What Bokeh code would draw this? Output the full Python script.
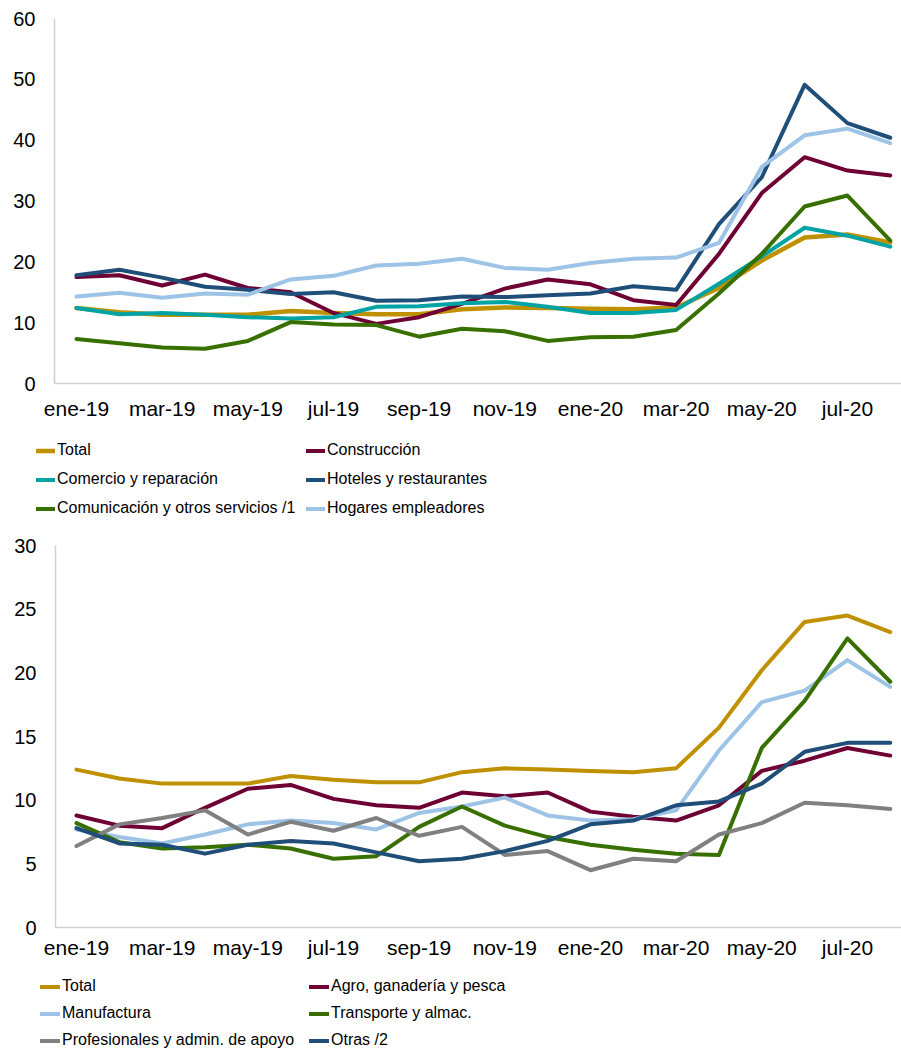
from bokeh.plotting import figure
from bokeh.models import Range1d, FixedTicker, Legend, LegendItem, LinearAxis
from bokeh.embed import file_html
from bokeh.resources import INLINE

months = ["ene-19", "feb-19", "mar-19", "abr-19", "may-19", "jun-19", "jul-19", "ago-19",
          "sep-19", "oct-19", "nov-19", "dic-19", "ene-20", "feb-20", "mar-20", "abr-20",
          "may-20", "jun-20", "jul-20", "ago-20"]

total = [12.4, 11.7, 11.3, 11.3, 11.3, 11.9, 11.6, 11.4, 11.4, 12.2, 12.5, 12.4, 12.3, 12.2, 12.5, 15.7, 20.2, 24.0, 24.5, 23.2]

# Top chart series
construccion = [17.5, 17.8, 16.1, 17.9, 15.7, 15.0, 11.6, 9.8, 10.9, 13.1, 15.6, 17.1, 16.3, 13.7, 12.9, 21.3, 31.3, 37.2, 35.0, 34.2]
comercio = [12.4, 11.4, 11.6, 11.3, 10.9, 10.7, 10.9, 12.6, 12.7, 13.2, 13.4, 12.6, 11.6, 11.6, 12.1, 16.4, 20.9, 25.6, 24.3, 22.5]
hoteles = [17.8, 18.7, 17.4, 15.9, 15.4, 14.7, 15.0, 13.6, 13.7, 14.3, 14.2, 14.5, 14.8, 16.0, 15.4, 26.2, 33.9, 49.1, 42.8, 40.4]
comunicacion = [7.3, 6.6, 5.9, 5.7, 7.0, 10.1, 9.7, 9.6, 7.7, 9.0, 8.6, 7.0, 7.6, 7.7, 8.8, 14.8, 21.3, 29.1, 30.9, 23.5]
hogares = [14.3, 14.9, 14.1, 14.8, 14.6, 17.1, 17.7, 19.4, 19.7, 20.5, 19.0, 18.7, 19.8, 20.5, 20.7, 23.1, 35.6, 40.8, 41.9, 39.5]

# Bottom chart series
agro = [8.8, 8.0, 7.8, 9.4, 10.9, 11.2, 10.1, 9.6, 9.4, 10.6, 10.3, 10.6, 9.1, 8.7, 8.4, 9.6, 12.3, 13.1, 14.1, 13.5]
manufactura = [7.7, 7.1, 6.6, 7.3, 8.1, 8.4, 8.2, 7.7, 9.0, 9.5, 10.2, 8.8, 8.4, 8.5, 9.2, 13.9, 17.7, 18.6, 21.0, 18.9]
transporte = [8.2, 6.7, 6.2, 6.3, 6.5, 6.2, 5.4, 5.6, 7.9, 9.5, 8.0, 7.1, 6.5, 6.1, 5.8, 5.7, 14.1, 17.8, 22.7, 19.3]
profesionales = [6.4, 8.1, 8.6, 9.2, 7.3, 8.3, 7.6, 8.6, 7.2, 7.9, 5.7, 6.0, 4.5, 5.4, 5.2, 7.3, 8.2, 9.8, 9.6, 9.3]
otras = [7.8, 6.6, 6.5, 5.8, 6.5, 6.8, 6.6, 5.9, 5.2, 5.4, 6.0, 6.8, 8.1, 8.4, 9.6, 9.9, 11.3, 13.8, 14.5, 14.5]

top_labels = ["Total", "Construcción", "Comercio y reparación", "Hoteles y restaurantes",
              "Comunicación y otros servicios /1", "Hogares empleadores"]
bot_labels = ["Total", "Agro, ganadería y pesca", "Manufactura", "Transporte y almac.",
              "Profesionales y admin. de apoyo", "Otras /2"]

top_ticks = [0, 10, 20, 30, 40, 50, 60]
bot_ticks = [0, 5, 10, 15, 20, 25, 30]

GOLD = "#BF9000"
MAROON = "#6E0034"
TEAL = "#00A3A3"
NAVY = "#1F4E79"
GREEN = "#387000"
LBLUE = "#9DC3E6"
GRAY = "#808080"

TICK_FONT = "Liberation Sans"
LEG_FONT = "Liberation Sans"

W, H = 901, 1049
# pixel layout (from top-left of canvas)
X0, DX = 76.0, 42.83            # first month centre, px per month
TOP_Y0, TOP_Y1 = 383.0, 18.0     # pixel of value 0 and of top tick (top chart)
BOT_Y0, BOT_Y1 = 927.0, 545.0    # pixel of value 0 and of top tick (bottom chart)
TOP_AX_X, BOT_AX_X = 54.0, 55.0  # pixel x of the y-axis lines


def yrange(p0, p1, vmax):
    k = (p0 - p1) / vmax
    return Range1d(-(H - p0) / k, vmax + p1 / k)


x = list(range(len(months)))
xs = -X0 / DX
xr = Range1d(xs, xs + W / DX)

p = figure(width=W, height=H, output_backend="svg", toolbar_location=None,
           x_axis_type=None, y_axis_type=None, x_range=xr, y_range=yrange(TOP_Y0, TOP_Y1, top_ticks[-1]),
           min_border=0)
p.extra_y_ranges = {"bot": yrange(BOT_Y0, BOT_Y1, bot_ticks[-1])}
p.outline_line_color = None
p.background_fill_color = "white"
p.border_fill_color = "white"


def style_axis(ax, size, standoff):
    ax.axis_line_color = "#D0D0D0"
    ax.axis_line_width = 1.5
    ax.major_tick_line_color = None
    ax.minor_tick_line_color = None
    ax.major_tick_out = 0
    ax.major_tick_in = 0
    ax.major_label_text_font = TICK_FONT
    ax.major_label_text_color = "#000000"
    ax.major_label_text_font_size = size
    ax.major_label_standoff = standoff


top_ax_x = (TOP_AX_X - X0) / DX
bot_ax_x = (BOT_AX_X - X0) / DX

# top chart axes
xa1 = LinearAxis(ticker=FixedTicker(ticks=list(range(0, len(months), 2))),
                 major_label_overrides={i: months[i] for i in x},
                 fixed_location=0, bounds=(top_ax_x, xr.end))
style_axis(xa1, "21px", 13)
p.add_layout(xa1, "below")
ya1 = LinearAxis(ticker=FixedTicker(ticks=top_ticks), fixed_location=top_ax_x,
                 bounds=(0, top_ticks[-1]))
style_axis(ya1, "20px", 19)
p.add_layout(ya1, "left")

# bottom chart axes
xa2 = LinearAxis(ticker=FixedTicker(ticks=list(range(0, len(months), 2))),
                 major_label_overrides={i: months[i] for i in x},
                 fixed_location=0, bounds=(bot_ax_x, xr.end), y_range_name="bot")
style_axis(xa2, "21px", 8)
p.add_layout(xa2, "below")
ya2 = LinearAxis(ticker=FixedTicker(ticks=bot_ticks), fixed_location=bot_ax_x,
                 bounds=(0, bot_ticks[-1]), y_range_name="bot")
style_axis(ya2, "20px", 19)
p.add_layout(ya2, "left")

# lines
r1 = []
for ys, c, w in zip([total, construccion, comercio, hoteles, comunicacion, hogares],
                    [GOLD, MAROON, TEAL, NAVY, GREEN, LBLUE],
                    [4.5, 4, 4, 4, 4, 4]):
    r1.append(p.line(x, ys, line_color=c, line_width=w, line_join="round", line_cap="round"))
r2 = []
for ys, c in zip([total, agro, manufactura, transporte, profesionales, otras],
                 [GOLD, MAROON, LBLUE, GREEN, GRAY, NAVY]):
    r2.append(p.line(x, ys, line_color=c, line_width=4, line_join="round", line_cap="round",
                     y_range_name="bot"))


def add_legend(renderers, labels, left, top, col_pitch, glyph_w, row_h, spacing):
    items = [LegendItem(label=l, renderers=[r]) for l, r in zip(labels, renderers)]
    leg_h = 3 * row_h + 2 * spacing
    leg = Legend(items=items, orientation="horizontal", ncols=2,
                 location=(left, H - top - leg_h),
                 glyph_width=glyph_w, glyph_height=row_h, label_height=row_h,
                 label_standoff=2, spacing=spacing, padding=0, margin=0,
                 label_width=col_pitch - glyph_w - 2 - spacing,
                 label_text_font=LEG_FONT, label_text_font_size="16px",
                 label_text_color="#000000",
                 border_line_color=None, background_fill_alpha=0)
    p.add_layout(leg, "center")


add_legend(r1, top_labels, 36, 439.5, 270, 19, 21, 8)
add_legend(r2, bot_labels, 40, 976.5, 269, 20, 19, 8)

open("out.html", "w").write(file_html(p, INLINE))
